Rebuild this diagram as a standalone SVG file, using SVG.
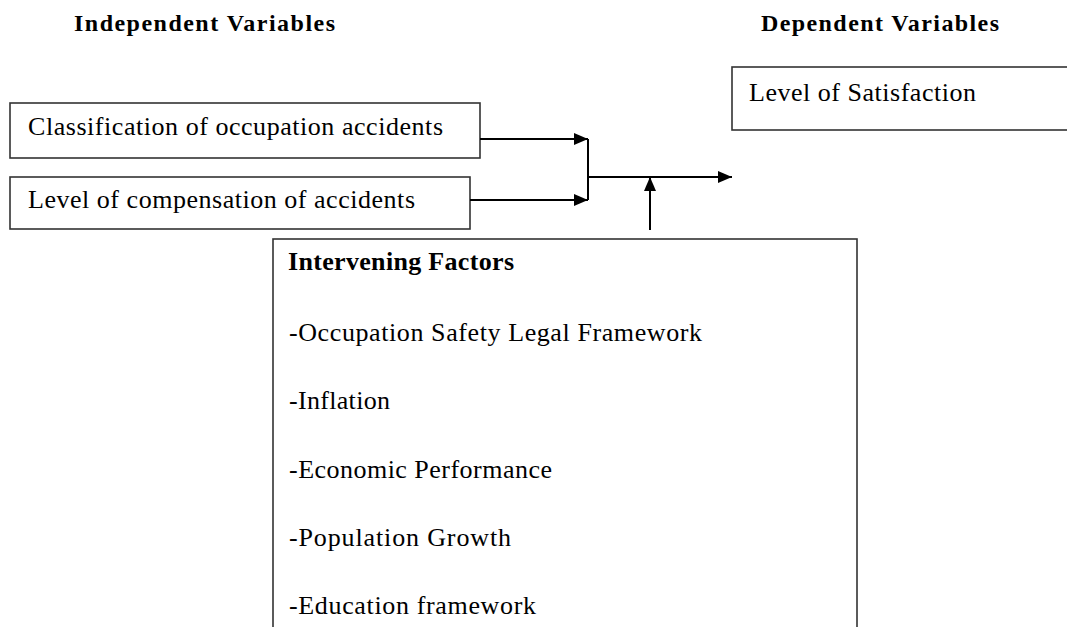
<svg xmlns="http://www.w3.org/2000/svg" width="1067" height="627" viewBox="0 0 1067 627">
<style>
.box{fill:#fff;stroke:#333;stroke-width:1.6}
.t{font-family:"Liberation Serif","Times New Roman",serif;font-size:26px;fill:#000}
.h{font-family:"Liberation Serif","Times New Roman",serif;font-size:24px;font-weight:bold;fill:#000}
.c{fill:none;stroke:#000;stroke-width:2}
</style>
<defs>
<marker id="ah" markerWidth="14" markerHeight="12" refX="14" refY="6" orient="auto" markerUnits="userSpaceOnUse">
<path d="M0,0 L14,6 L0,12 Z" fill="#000"/>
</marker>
</defs>
<rect width="1067" height="627" fill="#fff"/>
<text class="h" x="74" y="31" textLength="261" lengthAdjust="spacing">Independent Variables</text>
<text class="h" x="761" y="31" textLength="238" lengthAdjust="spacing">Dependent Variables</text>
<g id="n1"><rect class="box" x="10" y="103" width="470" height="55"/><text class="t" x="28" y="135" textLength="415" lengthAdjust="spacing">Classification of occupation accidents</text></g>
<g id="n2"><rect class="box" x="10" y="177" width="460" height="52"/><text class="t" x="28" y="208" textLength="387" lengthAdjust="spacing">Level of compensation of accidents</text></g>
<g id="n3"><rect class="box" x="732" y="67" width="340" height="63"/><text class="t" x="749" y="101" textLength="227" lengthAdjust="spacing">Level of Satisfaction</text></g>
<g id="n4"><rect class="box" x="273" y="239" width="584" height="400"/>
<text class="t" x="288" y="270" font-weight="bold" font-size="24" textLength="226" lengthAdjust="spacing">Intervening Factors</text>
<text class="t" x="289" y="341" textLength="413" lengthAdjust="spacing">-Occupation Safety Legal Framework</text>
<text class="t" x="289" y="409" textLength="101" lengthAdjust="spacing">-Inflation</text>
<text class="t" x="289" y="478" textLength="263" lengthAdjust="spacing">-Economic Performance</text>
<text class="t" x="289" y="546" textLength="222" lengthAdjust="spacing">-Population Growth</text>
<text class="t" x="289" y="614" textLength="247" lengthAdjust="spacing">-Education framework</text>
</g>
<g id="connectors">
<path class="c" d="M480,139 H588" marker-end="url(#ah)"/>
<path class="c" d="M470,200 H588" marker-end="url(#ah)"/>
<path class="c" d="M588,139 V200"/>
<path class="c" d="M588,177 H732" marker-end="url(#ah)"/>
<path class="c" d="M650,230 V177" marker-end="url(#ah)"/>
</g>
</svg>
